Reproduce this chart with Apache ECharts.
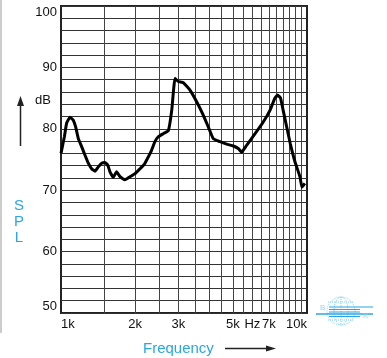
<!DOCTYPE html>
<html>
<head>
<meta charset="utf-8">
<script src="https://cdn.jsdelivr.net/npm/echarts@6/dist/echarts.min.js"></script>
<style>
html,body{margin:0;padding:0;background:#fff;}
#chart{width:387px;height:358px;}
</style>
</head>
<body>
<div id="chart"></div>
<script>
// Frequency response data (Hz, dB SPL)
var freq = [1000,1032,1054,1088,1122,1147,1176,1213,1252,1291,1332,1375,1418,1463,1510,1548,1582,1631,1683,1737,1820,1908,2000,2095,2180,2263,2334,2409,2486,2604,2731,2819,2907,2998,3142,3345,3560,3790,3970,4160,4428,4714,5018,5256,5421,5680,6150,6640,7070,7400,7590,7805,8000,8270,8550,8940,9360,9540,9800];
var spl = [76.0,78.7,80.9,81.9,81.4,80.3,78.4,77.1,75.7,74.4,73.5,73.1,73.8,74.4,74.5,74.1,73.0,72.1,73.0,72.2,71.7,72.2,72.7,73.5,74.2,75.4,76.5,77.9,78.7,79.2,79.7,83.0,88.2,87.7,87.5,86.3,84.4,82.2,80.3,78.4,77.9,77.5,77.2,76.8,76.2,77.3,79.2,81.1,83.0,85.0,85.5,85.0,83.0,80.3,77.6,74.6,72.2,70.5,71.1];
// Vertical grid lines (every 500 Hz)
var gridFreqs = [1500,2000,2500,3000,3500,4000,4500,5000,5500,6000,6500,7000,7500,8000,8500,9000,9500];
// X tick labels
var xTickValues = [1000,2000,3000,5000,6000,7000,10000];
var xTickLabels = ['1k','2k','3k','5k','Hz','7k','10k'];
// Y axis
var yMin = 50, yMax = 100, yGridStep = 2, yLabelStep = 10;

var chart = echarts.init(document.getElementById('chart'));
var pts = freq.map(function(f,i){return [f, spl[i]];});
var labelMap = {};
xTickValues.forEach(function(v,i){labelMap[v]=xTickLabels[i];});

var blue = '#2aa6e6';
var font = 'Liberation Sans, Arial, sans-serif';
var option = {
  animation:false,
  grid:{left:61,right:80,top:6,bottom:45,show:true,borderColor:'#222',borderWidth:2,backgroundColor:'#fff'},
  xAxis:{
    type:'log', logBase:10, min:1000, max:10000,
    axisLine:{show:false},
    axisTick:{show:false},
    splitLine:{show:false},
    axisLabel:{
      customValues: xTickValues,
      formatter:function(v){return labelMap[Math.round(v)]||'';},
      color:'#111', fontSize:13, fontFamily:font,
      margin:5, alignMinLabel:'left', alignMaxLabel:'right', showMinLabel:true, showMaxLabel:true
    }
  },
  yAxis:{
    type:'value', min:yMin, max:yMax, interval:yGridStep,
    axisLine:{show:false}, axisTick:{show:false},
    splitLine:{show:true,lineStyle:{color:'#333',width:1}},
    axisLabel:{
      formatter:function(v){return v%yLabelStep===0?String(v):'';},
      color:'#111', fontSize:13, fontFamily:font,
      margin:4, verticalAlignMaxLabel:'top', verticalAlignMinLabel:'bottom'
    }
  },
  series:[
    {
      type:'line', data:[[1000,yMin],[10000,yMin]], z:1, silent:true,
      lineStyle:{opacity:0}, symbol:'none',
      markLine:{
        silent:true, symbol:'none', animation:false,
        label:{show:false},
        lineStyle:{color:'#444',width:1,type:'solid'},
        data: gridFreqs.map(function(f){return {xAxis:f};})
      }
    },
    {
      type:'line', data:pts, z:5, symbol:'none', smooth:0.12,
      lineStyle:{color:'#000',width:3}
    }
  ],
  graphic:[
    {type:'line',shape:{x1:1,y1:0,x2:1,y2:333},style:{stroke:'#999',lineWidth:1}},
    {type:'line',shape:{x1:20.5,y1:146,x2:20.5,y2:104},style:{stroke:'#222',lineWidth:1.5}},
    {type:'polygon',shape:{points:[[17,106],[24,106],[20.5,96]]},style:{fill:'#222'}},
    {type:'text',x:35,y:94,style:{text:'dB',fill:'#111',font:'13px '+font}},
    {type:'text',x:19,y:206,style:{text:'S',fill:blue,font:'15px '+font,align:'center',verticalAlign:'middle'}},
    {type:'text',x:19,y:222,style:{text:'P',fill:blue,font:'15px '+font,align:'center',verticalAlign:'middle'}},
    {type:'text',x:19,y:238,style:{text:'L',fill:blue,font:'15px '+font,align:'center',verticalAlign:'middle'}},
    {type:'text',x:143,y:349,style:{text:'Frequency',fill:blue,font:'15px '+font,verticalAlign:'middle'}},
    {type:'line',shape:{x1:225,y1:348.5,x2:268,y2:348.5},style:{stroke:'#222',lineWidth:1.5}},
    {type:'polygon',shape:{points:[[266,345.5],[266,351.5],[276,348.5]]},style:{fill:'#222'}},
    // logo
    {type:'circle',shape:{cx:341,cy:311,r:14},style:{fill:'none',stroke:'#7fd0ff',lineWidth:1,lineDash:[1,1]}},
    {type:'ellipse',shape:{cx:341,cy:311,rx:7,ry:14},style:{fill:'none',stroke:'#7fd0ff',lineWidth:1,lineDash:[1,1]}},
    {type:'line',shape:{x1:341,y1:297,x2:341,y2:325},style:{stroke:'#7fd0ff',lineWidth:1,lineDash:[1,1]}},
    {type:'line',shape:{x1:328,y1:302,x2:354,y2:302},style:{stroke:'#7fd0ff',lineWidth:1,lineDash:[1,1]}},
    {type:'line',shape:{x1:328,y1:320,x2:354,y2:320},style:{stroke:'#7fd0ff',lineWidth:1,lineDash:[1,1]}},
    {type:'line',shape:{x1:316,y1:314,x2:373,y2:314},style:{stroke:blue,lineWidth:1.5}},
    {type:'line',shape:{x1:329,y1:307,x2:373,y2:307},style:{stroke:blue,lineWidth:1.2}},
    {type:'line',shape:{x1:329,y1:309.5,x2:360,y2:309.5},style:{stroke:blue,lineWidth:1}},
    {type:'line',shape:{x1:329,y1:312,x2:360,y2:312},style:{stroke:blue,lineWidth:1}},
    {type:'line',shape:{x1:329,y1:316.5,x2:360,y2:316.5},style:{stroke:blue,lineWidth:1}},
    {type:'text',x:320,y:308,style:{text:'B',fill:'#8fd6ff',font:'8px '+font,verticalAlign:'middle'}},
    {type:'text',x:363,y:316,style:{text:'K',fill:'#8fd6ff',font:'8px '+font,verticalAlign:'middle'}}
  ]
};
chart.setOption(option);
</script>
</body>
</html>
